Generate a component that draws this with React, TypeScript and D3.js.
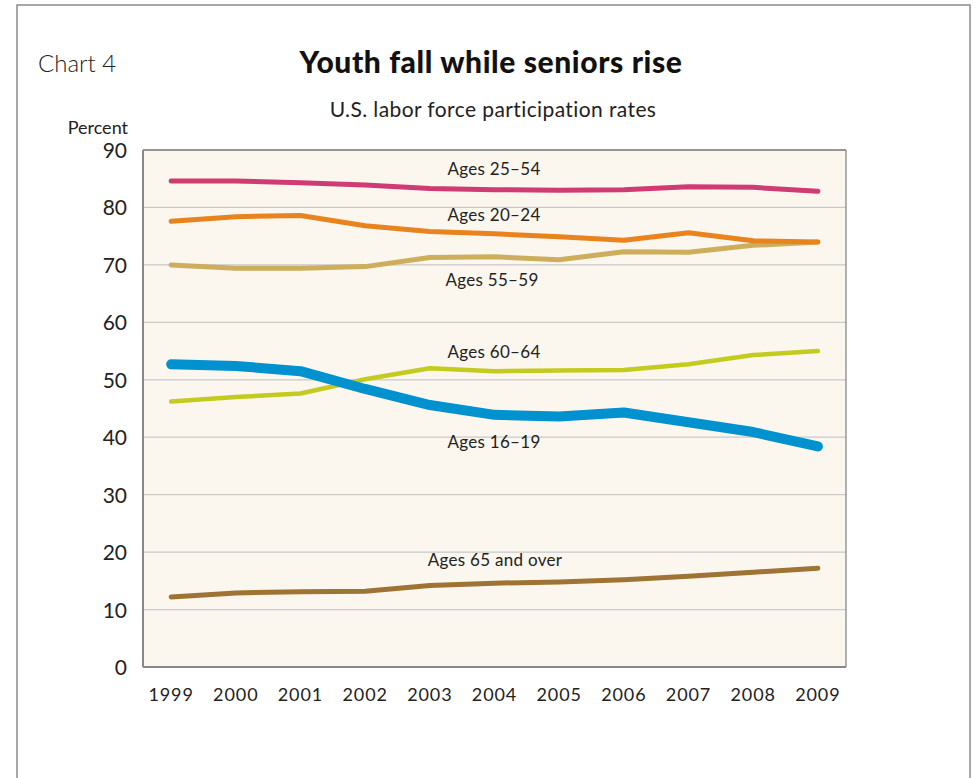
import React from "react";
import * as d3 from "d3";

const years = ["1999","2000","2001","2002","2003","2004","2005","2006","2007","2008","2009"];
const yTicks = [0,10,20,30,40,50,60,70,80,90];

const ages2554 = [84.6,84.6,84.3,83.9,83.3,83.1,83.0,83.1,83.6,83.5,82.8];
const ages2024 = [77.6,78.4,78.6,76.8,75.8,75.4,74.9,74.3,75.6,74.2,74.0];
const ages5559 = [70.0,69.4,69.4,69.7,71.3,71.4,70.9,72.3,72.2,73.4,74.0];
const ages6064 = [46.2,47.0,47.6,50.1,52.0,51.5,51.6,51.7,52.7,54.3,55.0];
const ages1619 = [52.7,52.4,51.5,48.4,45.6,43.9,43.6,44.3,42.6,40.9,38.4];
const ages65 = [12.2,12.9,13.1,13.2,14.2,14.6,14.8,15.2,15.8,16.5,17.2];

const seriesNames = ["Ages 25–54","Ages 20–24","Ages 55–59","Ages 60–64","Ages 16–19","Ages 65 and over"];

const FONT = "Lato, 'Open Sans', sans-serif";

export default function App() {
  const left = 143, right = 846, top = 150, bottom = 667;
  const x = d3.scalePoint<string>().domain(years).range([left, right]).padding(0.435);
  const y = d3.scaleLinear().domain([0, 90]).range([bottom, top]);
  const line = d3.line<number>().x((_, i) => x(years[i]) as number).y(d => y(d));

  const series = [
    { name: seriesNames[0], data: ages2554, color: "#CF3B73", w: 5, lx: 494, ly: 175 },
    { name: seriesNames[1], data: ages2024, color: "#E9831E", w: 5, lx: 494, ly: 221 },
    { name: seriesNames[2], data: ages5559, color: "#CDAE5C", w: 5, lx: 492, ly: 286 },
    { name: seriesNames[3], data: ages6064, color: "#C3CB1F", w: 4.5, lx: 494, ly: 358 },
    { name: seriesNames[4], data: ages1619, color: "#0091CF", w: 10, lx: 494, ly: 448 },
    { name: seriesNames[5], data: ages65, color: "#9F7334", w: 5, lx: 495, ly: 566 },
  ];
  const drawOrder = [2, 1, 0, 3, 5, 4];

  return (
    <svg width={979} height={778} style={{ position: "absolute", left: 0, top: 0, background: "#fff" }}>
      <rect x={0} y={0} width={979} height={778} fill="#fff" />
      <path d="M17,778 V5 H970 V778" fill="none" stroke="#8a8a8a" strokeWidth={1.5} />
      <text x={38} y={72} fontFamily={FONT} fontSize={24} fontWeight={300} fill="#222">Chart 4</text>
      <text x={491} y={73} textAnchor="middle" fontFamily={FONT} fontSize={30} fontWeight={900} letterSpacing={0.6} fill="#111">Youth fall while seniors rise</text>
      <text x={493} y={117} textAnchor="middle" fontFamily={FONT} fontSize={21} fontWeight={400} letterSpacing={0.4} fill="#222">U.S. labor force participation rates</text>
      <text x={128} y={134} textAnchor="end" fontFamily={FONT} fontSize={18} fill="#222">Percent</text>

      <rect x={left} y={top} width={right - left} height={bottom - top} fill="#FBF7EE" />
      {yTicks.filter(t => t > 0 && t < 90).map(t => (
        <line key={t} x1={left} x2={right} y1={y(t)} y2={y(t)} stroke="#C9C9C9" strokeWidth={1.3} />
      ))}
      <line x1={left} x2={right} y1={top} y2={top} stroke="#333" strokeWidth={1.2} />
      <line x1={right} x2={right} y1={top} y2={bottom} stroke="#888" strokeWidth={1.3} />
      <line x1={left} x2={right} y1={bottom} y2={bottom} stroke="#888" strokeWidth={1.8} />
      <line x1={left} x2={left} y1={top} y2={bottom} stroke="#888" strokeWidth={2} />

      {yTicks.map(t => (
        <text key={t} x={127} y={y(t) + 8} textAnchor="end" fontFamily={FONT} fontSize={21} fontWeight={400} fill="#222">{t}</text>
      ))}
      {years.map(yr => (
        <text key={yr} x={x(yr)} y={701} textAnchor="middle" fontFamily={FONT} fontSize={18} letterSpacing={0.9} fill="#222">{yr}</text>
      ))}

      {drawOrder.map(i => {
        const s = series[i];
        return (
          <path key={s.name} d={line(s.data) || ""} fill="none" stroke={s.color} strokeWidth={s.w}
            strokeLinecap="round" strokeLinejoin="round" />
        );
      })}
      {series.map(s => (
        <text key={s.name + "l"} x={s.lx} y={s.ly} textAnchor="middle" fontFamily={FONT} fontSize={17} letterSpacing={0.3} fill="#222">{s.name}</text>
      ))}
    </svg>
  );
}
